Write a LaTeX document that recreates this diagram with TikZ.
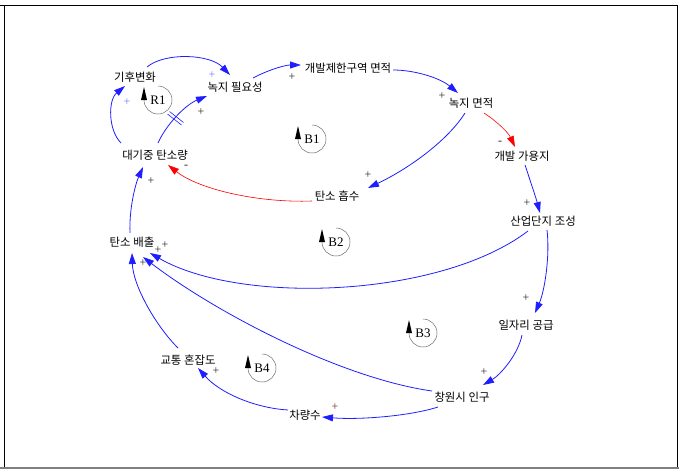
\documentclass[tikz,border=0pt]{standalone}
\usepackage{fontspec}
\setmainfont{Liberation Serif}
\newfontfamily\kr{Noto Sans CJK KR}
\usetikzlibrary{calc,arrows.meta}
\definecolor{lnblue}{RGB}{30,30,255}
\definecolor{lnred}{RGB}{255,0,0}
\definecolor{lgblue}{RGB}{120,120,255}
\definecolor{pgray}{RGB}{40,40,40}
\definecolor{pred}{RGB}{120,40,40}
\tikzset{
 var/.style={font=\kr\fontsize{11.4}{11.4}\selectfont, inner sep=1pt, text height=9pt, text depth=1pt},
 bl/.style={draw=lnblue, line width=0.8pt, -{Triangle[length=11pt,width=7pt]}, fill=none},
 rd/.style={draw=lnred, line width=0.6pt, -{Triangle[length=11pt,width=7pt]}},
 pol/.style={font=\fontsize{12}{12}\selectfont, inner sep=0pt, text=pgray},
 looplbl/.style={font=\fontsize{13}{13}\selectfont, inner sep=0pt},
 loopcirc/.style={draw=gray!85!black, line width=0.5pt},
}
\newcommand{\loopmark}[4]{%
  \node[looplbl] (#1) at (#2,#3) {#4};
  \draw[loopcirc] ($(#1)+(0,-14)$) arc[start angle=90, end angle=-180, radius=14pt];
  \fill[black] ($(#1)+(-17,0)$) -- ($(#1)+(-14,-13)$) -- ($(#1)+(-11,0)$) -- cycle;
}
\begin{document}
\begin{tikzpicture}[x=1pt,y=-1pt]
\useasboundingbox (0,0) rectangle (679,469);
% frame
\draw[line width=1pt] (4,5) rectangle (677,467);
\draw[line width=1pt] (0,5) -- (4,5);
\draw[gray, line width=1.5pt] (0,467.8) -- (679,467.8);

% variables
\node[var] (kh) at (135,77) {기후변화};
\node[var] (gp) at (235,87) {녹지 필요성};
\node[var] (gz) at (348,68) {개발제한구역 면적};
\node[var] (gm) at (471,103) {녹지 면적};
\node[var] (ga) at (522,156) {개발 가용지};
\node[var] (th) at (337,196) {탄소 흡수};
\node[var] (dt) at (155,155) {대기중 탄소량};
\node[var] (tb) at (132,242) {탄소 배출};
\node[var] (sd) at (543,221) {산업단지 조성};
\node[var] (il) at (526,325) {일자리 공급};
\node[var] (cp) at (462,397) {창원시 인구};
\node[var] (cr) at (305,415) {차량수};
\node[var] (gt) at (188,360) {교통 혼잡도};

% loop markers
\loopmark{R1}{158}{100}{R1}
\loopmark{B1}{312}{139}{B1}
\loopmark{B2}{336}{242}{B2}
\loopmark{B3}{423}{333}{B3}
\loopmark{B4}{262}{368}{B4}

% connectors
\draw[bl] ($(kh)+(12,-10)$) .. controls (165,52) and (210,54) .. ($(gp)+(-5,-12)$);
\draw[bl] ($(dt)+(-34,-12)$) .. controls (108,130) and (108,100) .. ($(kh)+(-10,9)$);
\draw[bl] ($(dt)+(3,-12)$) .. controls (166,125) and (185,105) .. ($(gp)+(-28,9)$);
\draw[bl] ($(gp)+(18,-9)$) .. controls (268,70) and (285,65) .. ($(gz)+(-47,-3)$);
\draw[bl] ($(gz)+(45,2)$) .. controls (415,70) and (440,78) .. ($(gm)+(-13,-10)$);
\draw[rd] ($(gm)+(13,10)$) .. controls (495,120) and (508,132) .. ($(ga)+(-7,-9)$);
\draw[bl] ($(gm)+(-6,10)$) .. controls (448,140) and (410,168) .. ($(th)+(31,-8)$);
\draw[rd] ($(th)+(-25,5)$) .. controls (260,203) and (200,190) .. ($(dt)+(13,10)$);
\draw[bl] ($(ga)+(3,9)$) .. controls (530,180) and (536,198) .. ($(sd)+(-3,-8)$);
\draw[bl] ($(sd)+(4,9)$) .. controls (550,255) and (545,290) .. ($(il)+(9,-12)$);
\draw[bl] ($(il)+(-4,10)$) .. controls (518,355) and (500,375) .. ($(cp)+(21,-12)$);
\draw[bl] ($(sd)+(-15,10)$) .. controls (440,298) and (240,305) .. ($(tb)+(18,11)$);
\draw[bl] ($(cp)+(-30,-6)$) .. controls (340,378) and (215,312) .. ($(tb)+(11,15)$);
\draw[bl] ($(gt)+(-10,-12)$) .. controls (155,325) and (133,285) .. ($(tb)+(0,11)$);
\draw[bl] ($(tb)+(-2,-9)$) .. controls (129,210) and (135,185) .. ($(dt)+(-12,12)$);
\draw[bl] ($(cp)+(-24,10)$) .. controls (410,416) and (360,420) .. ($(cr)+(17,2)$);
\draw[bl] ($(cr)+(-17,-5)$) .. controls (255,408) and (220,393) .. ($(gt)+(10,8)$);

% delay mark
\draw[lnblue, line width=0.6pt] (167.5,114) -- (181.5,125);
\draw[lnblue, line width=0.6pt] (169.5,111.5) -- (183.5,122.5);

% polarity signs
\node[pol, text=lgblue] (p1) at (212,75) {+};
\node[pol, text=lgblue] (p2) at (127,102) {+};
\node[pol] (p3) at (201,112) {+};
\node[pol] (p4) at (292,77) {+};
\node[pol] (p5) at (442,96) {+};
\node[pol] (p6) at (500,143) {-};
\node[pol] (p7) at (368,175) {+};
\node[pol] (p8) at (186,167) {-};
\node[pol] (p9) at (527,203) {+};
\node[pol] (p10) at (526,298) {+};
\node[pol] (p11) at (484,372) {+};
\node[pol] (p12) at (165,245) {+};
\node[pol] (p13) at (158,250) {+};
\node[pol] (p14) at (143,263) {+};
\node[pol] (p15) at (151,181) {+};
\node[pol, text=pred] (p16) at (335,407) {+};
\node[pol] (p17) at (216,371) {+};
\end{tikzpicture}
\end{document}
